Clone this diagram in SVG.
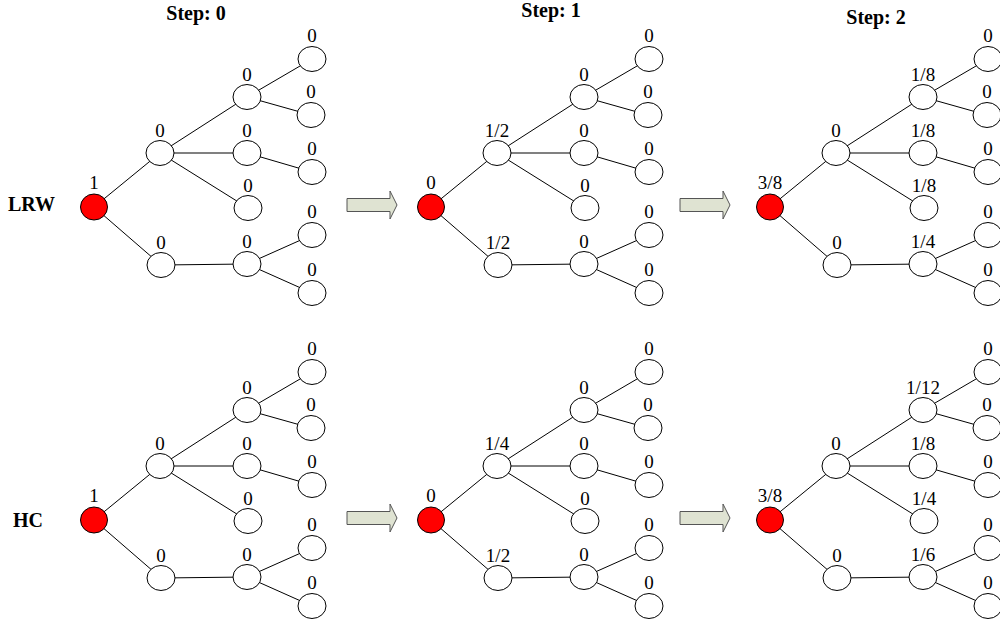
<svg xmlns="http://www.w3.org/2000/svg" xmlns:xlink="http://www.w3.org/1999/xlink" width="1000" height="623" viewBox="0 0 1000 623">
<style>
.n{fill:#fff;stroke:#000;stroke-width:1}
.r{fill:#ff0000;stroke:#000;stroke-width:1}
.e{stroke:#000;stroke-width:1;fill:none}
.g{stroke:#808080;stroke-width:2;fill:none}
.t{font-family:"Liberation Serif",serif;font-size:19px;text-anchor:middle;fill:#000}
.h{font-family:"Liberation Serif",serif;font-size:20px;font-weight:bold;fill:#000}
.ar{fill:#dfe3d2;stroke:#555;stroke-width:1}
</style>
<rect width="1000" height="623" fill="#fff"/>
<defs>
<g id="edges">
<line class="e" x1="94" y1="207" x2="160" y2="153"/>
<line class="e" x1="94" y1="207" x2="161" y2="265"/>
<line class="e" x1="160" y1="153" x2="247" y2="97"/>
<line class="e" x1="160" y1="153" x2="248" y2="208"/>
<line class="e" x1="161" y1="265" x2="247" y2="264"/>
<line class="e" x1="247" y1="97" x2="312" y2="59"/>
<line class="e" x1="247" y1="97" x2="311" y2="115"/>
<line class="e" x1="247" y1="153" x2="312" y2="172"/>
<line class="e" x1="247" y1="264" x2="312" y2="235"/>
<line class="e" x1="247" y1="264" x2="312" y2="293"/>
</g>
<path id="arrow" class="ar" d="M0,-6.5 H43 V-14 L50,0 L43,14 V6.5 H0 Z"/>
</defs>

<g id="connectors">
<g transform="translate(0,0)"><use xlink:href="#edges"/><line class="g" x1="160" y1="153" x2="247" y2="153"/></g>
<g transform="translate(337,0)"><use xlink:href="#edges"/><line class="g" x1="160" y1="153" x2="247" y2="153"/></g>
<g transform="translate(676,0)"><use xlink:href="#edges"/><line class="g" x1="160" y1="153" x2="247" y2="153"/></g>
<g transform="translate(0,313)"><use xlink:href="#edges"/><line class="e" x1="160" y1="153" x2="247" y2="153"/></g>
<g transform="translate(337,313)"><use xlink:href="#edges"/><line class="e" x1="160" y1="153" x2="247" y2="153"/></g>
<g transform="translate(676,313)"><use xlink:href="#edges"/><line class="e" x1="160" y1="153" x2="247" y2="153"/></g>
<use xlink:href="#arrow" transform="translate(347,205)"/>
<use xlink:href="#arrow" transform="translate(680,205)"/>
<use xlink:href="#arrow" transform="translate(347,518)"/>
<use xlink:href="#arrow" transform="translate(680,518)"/>
</g>

<g id="titles">
<text class="h" x="196" y="20" text-anchor="middle">Step: 0</text>
<text class="h" x="551" y="17" text-anchor="middle">Step: 1</text>
<text class="h" x="876" y="24" text-anchor="middle">Step: 2</text>
<text class="h" x="8" y="211">LRW</text>
<text class="h" x="13" y="527">HC</text>
</g>

<!-- Top row, step 0 -->
<g id="t0-root"><ellipse class="r" cx="94" cy="207" rx="13.5" ry="13"/><text class="t" x="94" y="189">1</text></g>
<g id="t0-a"><ellipse class="n" cx="160" cy="153" rx="14" ry="12.5"/><text class="t" x="160" y="137">0</text></g>
<g id="t0-b"><ellipse class="n" cx="161" cy="265" rx="14" ry="12.5"/><text class="t" x="161" y="249">0</text></g>
<g id="t0-c"><ellipse class="n" cx="247" cy="97" rx="14" ry="12.5"/><text class="t" x="247" y="81">0</text></g>
<g id="t0-d"><ellipse class="n" cx="247" cy="153" rx="14" ry="12.5"/><text class="t" x="247" y="137">0</text></g>
<g id="t0-e"><ellipse class="n" cx="248" cy="208" rx="14" ry="12.5"/><text class="t" x="248" y="192">0</text></g>
<g id="t0-f"><ellipse class="n" cx="247" cy="264" rx="14" ry="12.5"/><text class="t" x="247" y="248">0</text></g>
<g id="t0-g"><ellipse class="n" cx="312" cy="59" rx="14" ry="12.5"/><text class="t" x="312" y="42">0</text></g>
<g id="t0-h"><ellipse class="n" cx="311" cy="115" rx="14" ry="12.5"/><text class="t" x="311" y="98">0</text></g>
<g id="t0-i"><ellipse class="n" cx="312" cy="172" rx="14" ry="12.5"/><text class="t" x="312" y="155">0</text></g>
<g id="t0-j"><ellipse class="n" cx="312" cy="235" rx="14" ry="12.5"/><text class="t" x="312" y="218">0</text></g>
<g id="t0-k"><ellipse class="n" cx="312" cy="293" rx="14" ry="12.5"/><text class="t" x="312" y="276">0</text></g>

<!-- Top row, step 1 -->
<g transform="translate(337,0)">
<g id="t1-root"><ellipse class="r" cx="94" cy="207" rx="13.5" ry="13"/><text class="t" x="94" y="189">0</text></g>
<g id="t1-a"><ellipse class="n" cx="160" cy="153" rx="14" ry="12.5"/><text class="t" x="160" y="137">1/2</text></g>
<g id="t1-b"><ellipse class="n" cx="161" cy="265" rx="14" ry="12.5"/><text class="t" x="161" y="249">1/2</text></g>
<g id="t1-c"><ellipse class="n" cx="247" cy="97" rx="14" ry="12.5"/><text class="t" x="247" y="81">0</text></g>
<g id="t1-d"><ellipse class="n" cx="247" cy="153" rx="14" ry="12.5"/><text class="t" x="247" y="137">0</text></g>
<g id="t1-e"><ellipse class="n" cx="248" cy="208" rx="14" ry="12.5"/><text class="t" x="248" y="192">0</text></g>
<g id="t1-f"><ellipse class="n" cx="247" cy="264" rx="14" ry="12.5"/><text class="t" x="247" y="248">0</text></g>
<g id="t1-g"><ellipse class="n" cx="312" cy="59" rx="14" ry="12.5"/><text class="t" x="312" y="42">0</text></g>
<g id="t1-h"><ellipse class="n" cx="311" cy="115" rx="14" ry="12.5"/><text class="t" x="311" y="98">0</text></g>
<g id="t1-i"><ellipse class="n" cx="312" cy="172" rx="14" ry="12.5"/><text class="t" x="312" y="155">0</text></g>
<g id="t1-j"><ellipse class="n" cx="312" cy="235" rx="14" ry="12.5"/><text class="t" x="312" y="218">0</text></g>
<g id="t1-k"><ellipse class="n" cx="312" cy="293" rx="14" ry="12.5"/><text class="t" x="312" y="276">0</text></g>
</g>

<!-- Top row, step 2 -->
<g transform="translate(676,0)">
<g id="t2-root"><ellipse class="r" cx="94" cy="207" rx="13.5" ry="13"/><text class="t" x="94" y="189">3/8</text></g>
<g id="t2-a"><ellipse class="n" cx="160" cy="153" rx="14" ry="12.5"/><text class="t" x="160" y="137">0</text></g>
<g id="t2-b"><ellipse class="n" cx="161" cy="265" rx="14" ry="12.5"/><text class="t" x="161" y="249">0</text></g>
<g id="t2-c"><ellipse class="n" cx="247" cy="97" rx="14" ry="12.5"/><text class="t" x="247" y="81">1/8</text></g>
<g id="t2-d"><ellipse class="n" cx="247" cy="153" rx="14" ry="12.5"/><text class="t" x="247" y="137">1/8</text></g>
<g id="t2-e"><ellipse class="n" cx="248" cy="208" rx="14" ry="12.5"/><text class="t" x="248" y="192">1/8</text></g>
<g id="t2-f"><ellipse class="n" cx="247" cy="264" rx="14" ry="12.5"/><text class="t" x="247" y="248">1/4</text></g>
<g id="t2-g"><ellipse class="n" cx="312" cy="59" rx="14" ry="12.5"/><text class="t" x="312" y="42">0</text></g>
<g id="t2-h"><ellipse class="n" cx="311" cy="115" rx="14" ry="12.5"/><text class="t" x="311" y="98">0</text></g>
<g id="t2-i"><ellipse class="n" cx="312" cy="172" rx="14" ry="12.5"/><text class="t" x="312" y="155">0</text></g>
<g id="t2-j"><ellipse class="n" cx="312" cy="235" rx="14" ry="12.5"/><text class="t" x="312" y="218">0</text></g>
<g id="t2-k"><ellipse class="n" cx="312" cy="293" rx="14" ry="12.5"/><text class="t" x="312" y="276">0</text></g>
</g>

<!-- Bottom row, step 0 -->
<g transform="translate(0,313)">
<g id="b0-root"><ellipse class="r" cx="94" cy="207" rx="13.5" ry="13"/><text class="t" x="94" y="189">1</text></g>
<g id="b0-a"><ellipse class="n" cx="160" cy="153" rx="14" ry="12.5"/><text class="t" x="160" y="137">0</text></g>
<g id="b0-b"><ellipse class="n" cx="161" cy="265" rx="14" ry="12.5"/><text class="t" x="161" y="249">0</text></g>
<g id="b0-c"><ellipse class="n" cx="247" cy="97" rx="14" ry="12.5"/><text class="t" x="247" y="81">0</text></g>
<g id="b0-d"><ellipse class="n" cx="247" cy="153" rx="14" ry="12.5"/><text class="t" x="247" y="137">0</text></g>
<g id="b0-e"><ellipse class="n" cx="248" cy="208" rx="14" ry="12.5"/><text class="t" x="248" y="192">0</text></g>
<g id="b0-f"><ellipse class="n" cx="247" cy="264" rx="14" ry="12.5"/><text class="t" x="247" y="248">0</text></g>
<g id="b0-g"><ellipse class="n" cx="312" cy="59" rx="14" ry="12.5"/><text class="t" x="312" y="42">0</text></g>
<g id="b0-h"><ellipse class="n" cx="311" cy="115" rx="14" ry="12.5"/><text class="t" x="311" y="98">0</text></g>
<g id="b0-i"><ellipse class="n" cx="312" cy="172" rx="14" ry="12.5"/><text class="t" x="312" y="155">0</text></g>
<g id="b0-j"><ellipse class="n" cx="312" cy="235" rx="14" ry="12.5"/><text class="t" x="312" y="218">0</text></g>
<g id="b0-k"><ellipse class="n" cx="312" cy="293" rx="14" ry="12.5"/><text class="t" x="312" y="276">0</text></g>
</g>

<!-- Bottom row, step 1 -->
<g transform="translate(337,313)">
<g id="b1-root"><ellipse class="r" cx="94" cy="207" rx="13.5" ry="13"/><text class="t" x="94" y="189">0</text></g>
<g id="b1-a"><ellipse class="n" cx="160" cy="153" rx="14" ry="12.5"/><text class="t" x="160" y="137">1/4</text></g>
<g id="b1-b"><ellipse class="n" cx="161" cy="265" rx="14" ry="12.5"/><text class="t" x="161" y="249">1/2</text></g>
<g id="b1-c"><ellipse class="n" cx="247" cy="97" rx="14" ry="12.5"/><text class="t" x="247" y="81">0</text></g>
<g id="b1-d"><ellipse class="n" cx="247" cy="153" rx="14" ry="12.5"/><text class="t" x="247" y="137">0</text></g>
<g id="b1-e"><ellipse class="n" cx="248" cy="208" rx="14" ry="12.5"/><text class="t" x="248" y="192">0</text></g>
<g id="b1-f"><ellipse class="n" cx="247" cy="264" rx="14" ry="12.5"/><text class="t" x="247" y="248">0</text></g>
<g id="b1-g"><ellipse class="n" cx="312" cy="59" rx="14" ry="12.5"/><text class="t" x="312" y="42">0</text></g>
<g id="b1-h"><ellipse class="n" cx="311" cy="115" rx="14" ry="12.5"/><text class="t" x="311" y="98">0</text></g>
<g id="b1-i"><ellipse class="n" cx="312" cy="172" rx="14" ry="12.5"/><text class="t" x="312" y="155">0</text></g>
<g id="b1-j"><ellipse class="n" cx="312" cy="235" rx="14" ry="12.5"/><text class="t" x="312" y="218">0</text></g>
<g id="b1-k"><ellipse class="n" cx="312" cy="293" rx="14" ry="12.5"/><text class="t" x="312" y="276">0</text></g>
</g>

<!-- Bottom row, step 2 -->
<g transform="translate(676,313)">
<g id="b2-root"><ellipse class="r" cx="94" cy="207" rx="13.5" ry="13"/><text class="t" x="94" y="189">3/8</text></g>
<g id="b2-a"><ellipse class="n" cx="160" cy="153" rx="14" ry="12.5"/><text class="t" x="160" y="137">0</text></g>
<g id="b2-b"><ellipse class="n" cx="161" cy="265" rx="14" ry="12.5"/><text class="t" x="161" y="249">0</text></g>
<g id="b2-c"><ellipse class="n" cx="247" cy="97" rx="14" ry="12.5"/><text class="t" x="247" y="81">1/12</text></g>
<g id="b2-d"><ellipse class="n" cx="247" cy="153" rx="14" ry="12.5"/><text class="t" x="247" y="137">1/8</text></g>
<g id="b2-e"><ellipse class="n" cx="248" cy="208" rx="14" ry="12.5"/><text class="t" x="248" y="192">1/4</text></g>
<g id="b2-f"><ellipse class="n" cx="247" cy="264" rx="14" ry="12.5"/><text class="t" x="247" y="248">1/6</text></g>
<g id="b2-g"><ellipse class="n" cx="312" cy="59" rx="14" ry="12.5"/><text class="t" x="312" y="42">0</text></g>
<g id="b2-h"><ellipse class="n" cx="311" cy="115" rx="14" ry="12.5"/><text class="t" x="311" y="98">0</text></g>
<g id="b2-i"><ellipse class="n" cx="312" cy="172" rx="14" ry="12.5"/><text class="t" x="312" y="155">0</text></g>
<g id="b2-j"><ellipse class="n" cx="312" cy="235" rx="14" ry="12.5"/><text class="t" x="312" y="218">0</text></g>
<g id="b2-k"><ellipse class="n" cx="312" cy="293" rx="14" ry="12.5"/><text class="t" x="312" y="276">0</text></g>
</g>
</svg>
